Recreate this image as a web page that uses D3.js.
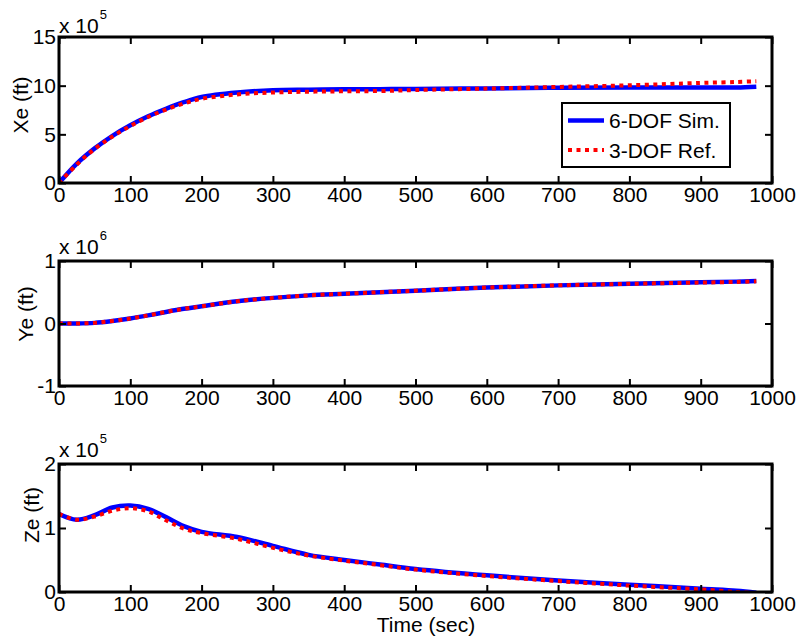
<!DOCTYPE html>
<html>
<head>
<meta charset="utf-8">
<script src="https://cdn.jsdelivr.net/npm/d3@7"></script>
<style>
  body { margin: 0; background: #fff; }
  svg text { font-family: "Liberation Sans", Arial, sans-serif; fill: #000; }
</style>
</head>
<body>
<div id="chart"></div>
<script>
// Time samples (sec)
var time = [0, 25, 50, 75, 100, 125, 150, 175, 200, 250, 300, 350, 400, 450, 500, 600, 700, 800, 900, 950, 978];

// Xe (x 10^5 ft)
var xeSim = [0, 2.0, 3.56, 4.85, 5.93, 6.85, 7.62, 8.3, 8.84, 9.3, 9.53, 9.58, 9.62, 9.64, 9.66, 9.72, 9.78, 9.8, 9.8, 9.82, 9.9];
var xeRef = [0, 1.9, 3.5, 4.78, 5.85, 6.78, 7.55, 8.17, 8.65, 9.1, 9.3, 9.38, 9.42, 9.45, 9.55, 9.7, 9.87, 10.04, 10.28, 10.38, 10.45];

// Ye (x 10^6 ft)
var yeSim = [0, 0, 0.01, 0.04, 0.08, 0.13, 0.185, 0.235, 0.275, 0.355, 0.41, 0.45, 0.475, 0.5, 0.525, 0.575, 0.61, 0.635, 0.66, 0.67, 0.68];
var yeRef = [0, 0, 0.01, 0.04, 0.08, 0.13, 0.185, 0.235, 0.275, 0.355, 0.41, 0.45, 0.475, 0.5, 0.525, 0.575, 0.61, 0.635, 0.655, 0.665, 0.675];

// Ze (x 10^5 ft)
var zeSim = [1.22, 1.13, 1.2, 1.32, 1.35, 1.3, 1.17, 1.03, 0.94, 0.86, 0.72, 0.58, 0.5, 0.43, 0.36, 0.26, 0.18, 0.115, 0.05, 0.02, -0.01];
var zeRef = [1.22, 1.13, 1.18, 1.27, 1.31, 1.26, 1.12, 0.99, 0.92, 0.83, 0.69, 0.57, 0.49, 0.42, 0.35, 0.25, 0.17, 0.1, 0.04, 0.0, -0.02];

// Tick labels
var xTicks = [0, 100, 200, 300, 400, 500, 600, 700, 800, 900, 1000];
var xeTicks = [0, 5, 10, 15];
var yeTicks = [-1, 0, 1];
var zeTicks = [0, 1, 2];

var seriesNames = ["6-DOF Sim.", "3-DOF Ref."];

// Panel setup
var panels = [
  { label: "Xe (ft)", exp: "5", sim: xeSim, ref: xeRef, ticks: xeTicks, domain: [0, 15],
    top: 37, bottom: 183, labelX: 28, labelY: 105, expGap: 4, legend: true },
  { label: "Ye (ft)", exp: "6", sim: yeSim, ref: yeRef, ticks: yeTicks, domain: [-1, 1],
    top: 261, bottom: 386, labelX: 33, labelY: 314, expGap: 7 },
  { label: "Ze (ft)", exp: "5", sim: zeSim, ref: zeRef, ticks: zeTicks, domain: [0, 2],
    top: 464, bottom: 592, labelX: 39, labelY: 515, expGap: 7 }
];

var svgWidth = 800;
var svgHeight = 639;
var left = 59;
var right = 772;
var fontSize = "21px";
var plain = function(d) { return String(d); };

var svg = d3.select("#chart")
  .append("svg")
  .attr("width", svgWidth)
  .attr("height", svgHeight);

var xScale = d3.scaleLinear()
  .domain([0, 1000])
  .range([left, right]);

panels.forEach(function(p, i) {

  var yScale = d3.scaleLinear()
    .domain(p.domain)
    .range([p.bottom, p.top]);

  // clip for the lines
  svg.append("clipPath")
    .attr("id", "clip" + i)
    .append("rect")
    .attr("x", left)
    .attr("y", p.top)
    .attr("width", right - left)
    .attr("height", p.bottom - p.top);

  var line = d3.line()
    .x(function(d, j) { return xScale(time[j]); })
    .y(function(d) { return yScale(d); })
    .curve(d3.curveCatmullRom.alpha(0.5));

  var g = svg.append("g");

  // Lines
  g.append("path")
    .datum(p.sim)
    .attr("clip-path", "url(#clip" + i + ")")
    .attr("d", line)
    .attr("fill", "none")
    .attr("stroke", "#0000ff")
    .attr("stroke-width", 4.5);

  g.append("path")
    .datum(p.ref)
    .attr("clip-path", "url(#clip" + i + ")")
    .attr("d", line)
    .attr("fill", "none")
    .attr("stroke", "#ff0000")
    .attr("stroke-width", 4)
    .attr("stroke-dasharray", "4,4.5");

  // Axes (ticks point inward)
  var bottomAxis = d3.axisBottom(xScale).tickValues(xTicks).tickFormat(plain).tickSizeInner(-7).tickSizeOuter(0).tickPadding(4);
  var topAxis = d3.axisTop(xScale).tickValues(xTicks).tickSizeInner(-7).tickSizeOuter(0).tickFormat("");
  var leftAxis = d3.axisLeft(yScale).tickValues(p.ticks).tickFormat(plain).tickSizeInner(-7).tickSizeOuter(0).tickPadding(3);
  var rightAxis = d3.axisRight(yScale).tickValues(p.ticks).tickSizeInner(-7).tickSizeOuter(0).tickFormat("");

  var axes = [
    g.append("g").attr("transform", `translate(0, ${p.bottom})`).call(bottomAxis),
    g.append("g").attr("transform", `translate(0, ${p.top})`).call(topAxis),
    g.append("g").attr("transform", `translate(${left}, 0)`).call(leftAxis),
    g.append("g").attr("transform", `translate(${right}, 0)`).call(rightAxis)
  ];
  axes.forEach(function(a) {
    a.select(".domain").remove();
    a.selectAll("line").attr("stroke", "#000").attr("stroke-width", 2);
    a.selectAll("text").style("font-size", fontSize).attr("fill", "#000");
  });

  // Frame
  g.append("rect")
    .attr("x", left)
    .attr("y", p.top)
    .attr("width", right - left)
    .attr("height", p.bottom - p.top)
    .attr("fill", "none")
    .attr("stroke", "#000")
    .attr("stroke-width", 3);

  // Exponent "x 10^n"
  var expText = g.append("text")
    .attr("x", left)
    .attr("y", p.top - p.expGap)
    .style("font-size", fontSize);
  expText.append("tspan").text("x 10");
  expText.append("tspan")
    .attr("dy", -14)
    .attr("dx", 1)
    .style("font-size", "13px")
    .text(p.exp);

  // Y label
  g.append("text")
    .attr("transform", `translate(${p.labelX}, ${p.labelY}) rotate(-90)`)
    .attr("text-anchor", "middle")
    .style("font-size", fontSize)
    .text(p.label);

  // Legend
  if (p.legend) {
    var lg = g.append("g");
    lg.append("rect")
      .attr("x", 562)
      .attr("y", 103)
      .attr("width", 168)
      .attr("height", 64)
      .attr("fill", "#fff")
      .attr("stroke", "#000")
      .attr("stroke-width", 2);

    var rows = [
      { name: seriesNames[0], color: "#0000ff", dash: null, y: 120.5 },
      { name: seriesNames[1], color: "#ff0000", dash: "4,4.5", y: 150 }
    ];
    rows.forEach(function(r) {
      lg.append("line")
        .attr("x1", 568)
        .attr("x2", 604)
        .attr("y1", r.y)
        .attr("y2", r.y)
        .attr("stroke", r.color)
        .attr("stroke-width", r.dash ? 4 : 4.5)
        .attr("stroke-dasharray", r.dash);
      lg.append("text")
        .attr("x", 609)
        .attr("y", r.y + 7.5)
        .style("font-size", fontSize)
        .text(r.name);
    });
  }
});

// X axis label
svg.append("text")
  .attr("x", 426)
  .attr("y", 632)
  .attr("text-anchor", "middle")
  .style("font-size", fontSize)
  .text("Time (sec)");
</script>
</body>
</html>
